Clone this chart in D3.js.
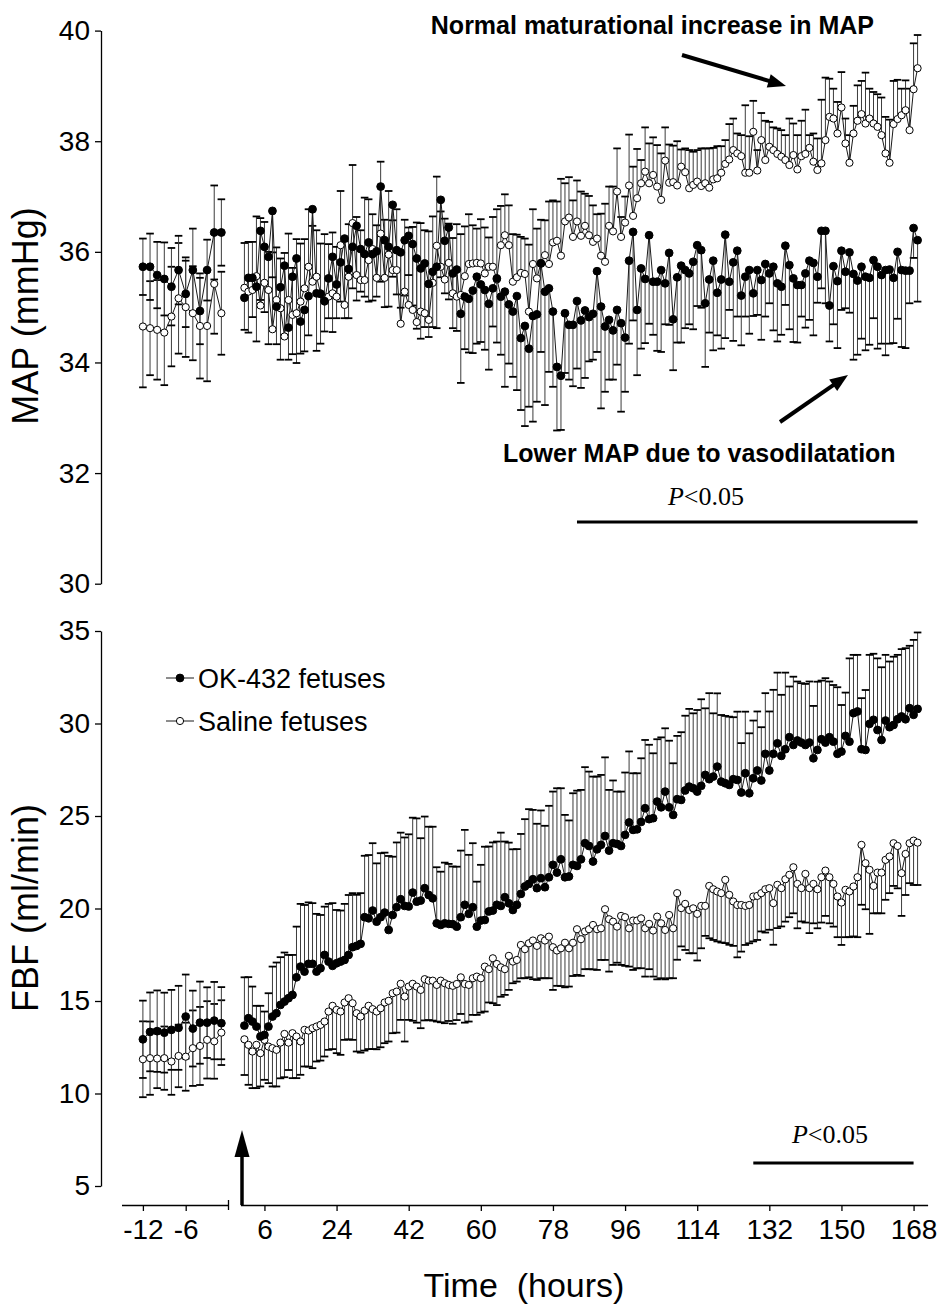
<!DOCTYPE html>
<html><head><meta charset="utf-8">
<script src="https://cdn.jsdelivr.net/npm/d3@7"></script>
<style>
html,body{margin:0;padding:0;background:#fff;}
svg{display:block;}
</style></head><body>
<svg id="chart" width="942" height="1309"></svg>
<script>
// ---------------- DATA ----------------
const preHours = [-12,-11,-10,-9,-8,-7,-6,-5,-4,-3,-2,-1];
const postHours = [1,2,3,4,5,6,7,8,9,10,11,12,13,14,15,16,17,18,19,20,
 21,22,23,24,25,26,27,28,29,30,31,32,33,34,35,36,37,38,39,40,
 41,42,43,44,45,46,47,48,49,50,51,52,53,54,55,56,57,58,59,60,
 61,62,63,64,65,66,67,68,69,70,71,72,73,74,75,76,77,78,79,80,
 81,82,83,84,85,86,87,88,89,90,91,92,93,94,95,96,97,98,99,100,
 101,102,103,104,105,106,107,108,109,110,111,112,113,114,115,116,117,118,119,120,
 121,122,123,124,125,126,127,128,129,130,131,132,133,134,135,136,137,138,139,140,
 141,142,143,144,145,146,147,148,149,150,151,152,153,154,155,156,157,158,159,160,
 161,162,163,164,165,166,167,168,169];

const mapTicks = [30,32,34,36,38,40];
const fbfTicks = [5,10,15,20,25,30,35];
const xTicksPre = [-12,-6];
const xTicksPost = [6,24,42,60,78,96,114,132,150,168];
const seriesNames = ["OK-432 fetuses","Saline fetuses"];
const sigMapHours = [84,169];
const sigFbfHours = [128,168];

// MAP (mmHg) - OK-432 (filled)
const mapOkPre = [35.73,35.73,35.58,35.51,35.37,35.67,35.24,35.67,34.93,35.67,36.35,36.35];
const mapOkPreSem = [0.51,0.60,0.60,0.66,0.70,0.62,0.60,0.75,0.60,0.55,0.85,0.60];
const mapOk = [
 35.17,35.53,35.53,35.37,36.38,36.09,35.91,36.74,35.01,35.36,
 35.75,34.63,35.55,35.88,34.74,34.95,35.20,36.77,35.25,35.24,
 35.11,35.52,35.91,35.41,35.81,36.24,35.69,36.09,36.47,36.05,
 35.96,36.17,35.96,36.01,37.18,36.21,36.09,36.85,36.03,35.99,
 36.21,36.29,36.14,35.88,35.70,35.79,35.42,35.64,35.73,36.94,
 36.20,36.44,35.61,35.68,34.88,35.19,35.15,35.30,35.55,35.41,
 35.31,35.06,35.34,35.52,35.19,35.28,35.05,34.92,35.20,34.44,
 34.66,34.25,34.84,34.87,35.79,35.28,35.34,34.92,33.92,33.76,
 34.89,34.68,34.68,35.11,34.76,34.94,34.82,34.88,35.65,35.01,
 34.65,34.77,34.58,34.95,34.71,34.45,35.84,36.36,34.95,35.70,
 35.51,36.30,35.46,35.46,35.67,35.43,35.98,34.78,35.54,35.75,
 35.67,35.61,35.82,36.12,36.03,35.07,35.50,35.84,35.26,35.50,
 36.31,35.46,35.81,36.02,35.21,35.55,35.67,35.25,35.67,35.49,
 35.78,35.61,35.73,35.43,35.37,36.11,35.76,35.52,35.40,35.40,
 35.61,35.84,35.80,35.55,36.38,36.38,35.03,35.74,35.47,36.02,
 35.64,35.99,35.60,35.48,35.73,35.55,35.53,35.85,35.73,35.58,
 35.67,35.68,35.53,36.00,35.67,35.66,35.66,36.43,36.21];
const mapOkSem = [
 0.58,0.99,0.71,0.99,1.25,1.18,1.58,1.20,0.68,1.31,
 1.25,0.58,1.40,1.89,0.58,0.75,0.71,1.30,1.04,0.90,
 0.55,0.72,1.36,0.61,0.71,1.44,0.89,0.75,1.35,0.77,
 0.77,1.07,0.84,0.82,1.72,1.21,1.08,1.30,0.80,1.00,
 1.00,0.71,1.11,1.27,1.27,1.15,0.96,1.00,1.11,1.40,
 0.95,1.30,0.99,1.11,1.25,0.95,0.97,1.13,1.21,1.04,
 1.08,1.19,0.69,1.16,1.05,1.72,1.07,1.18,1.70,1.30,
 1.81,1.05,1.91,1.58,1.60,2.05,1.51,1.36,1.15,0.98,
 1.08,0.99,1.11,1.22,1.22,1.22,0.80,0.83,1.46,1.84,
 1.18,1.08,0.89,0.99,1.60,0.98,1.50,1.60,1.18,1.45,
 1.16,1.60,0.96,1.25,1.48,0.74,1.30,0.92,1.18,1.39,
 1.05,0.92,1.22,1.10,1.04,1.15,0.96,1.62,0.77,1.25,
 1.87,0.51,1.42,1.19,0.90,0.72,1.15,0.41,0.81,1.08,
 0.95,0.54,1.15,1.05,0.87,1.07,1.16,1.15,1.04,0.57,
 0.98,1.07,1.31,0.47,1.04,1.31,0.65,1.05,1.21,1.07,
 0.66,1.09,1.55,1.34,1.30,1.33,1.21,1.05,1.48,1.24,
 1.54,1.34,1.18,1.21,1.39,1.40,0.59,0.54,1.11];

// MAP (mmHg) - Saline (open)
const mapSalPre = [34.65,34.62,34.59,34.54,34.83,35.16,35.00,34.89,34.66,34.66,35.42,34.89];
const mapSalPreSem = [1.10,0.85,0.90,0.95,0.90,1.00,0.90,0.85,0.95,1.00,0.90,0.75];
const mapSal = [
 35.35,35.28,35.31,35.56,35.03,35.44,35.31,34.60,35.13,34.98,
 34.47,35.13,34.86,34.89,35.10,35.34,35.73,35.46,35.55,35.25,
 35.10,35.19,35.25,35.19,36.12,35.04,35.55,36.52,35.58,35.49,
 35.49,35.85,36.05,35.53,36.33,35.53,35.95,35.67,35.67,34.70,
 35.28,35.04,34.95,34.73,34.92,34.89,34.77,35.44,36.11,35.73,
 35.50,35.80,35.25,35.19,35.22,35.56,35.78,35.79,35.80,35.79,
 35.61,35.73,35.73,35.50,36.12,36.30,36.12,35.46,35.54,35.62,
 35.60,34.92,35.78,35.52,35.80,35.94,35.78,36.17,36.20,35.93,
 36.55,36.62,36.27,36.55,36.29,36.47,36.30,36.18,36.24,35.93,
 35.82,36.47,36.37,37.09,36.27,36.53,37.20,36.65,36.97,37.24,
 37.45,37.24,37.39,37.18,36.94,37.65,37.25,37.26,37.20,37.54,
 37.44,37.15,37.21,37.27,37.19,37.24,37.16,37.31,37.33,37.43,
 37.59,37.67,37.84,37.78,37.73,37.43,37.43,38.17,37.47,38.02,
 37.66,37.90,37.84,37.77,37.72,37.66,37.57,37.75,37.49,37.73,
 37.77,37.88,37.63,37.48,37.60,38.02,38.44,38.41,38.14,38.61,
 37.96,37.61,38.14,38.37,38.49,38.32,38.41,38.32,38.26,38.11,
 37.78,37.61,38.31,38.40,38.47,38.56,38.20,38.94,39.32];
const mapSalSem = [
 0.81,0.90,0.87,1.08,1.58,1.10,0.69,1.39,0.95,0.90,
 1.51,1.20,0.85,1.34,1.05,0.89,1.04,1.01,0.84,0.90,
 1.22,0.95,1.10,0.90,0.98,1.15,0.95,1.05,1.05,0.90,
 1.49,1.10,0.63,0.95,1.30,1.05,1.15,0.90,1.10,1.30,
 1.30,1.40,1.50,1.80,1.60,1.50,1.60,1.20,1.25,1.00,
 1.10,0.71,1.00,1.31,1.10,0.90,0.90,0.69,0.62,0.80,
 0.83,0.53,0.90,1.27,0.71,0.74,0.72,0.86,0.77,0.65,
 0.64,1.21,0.99,0.90,0.78,0.63,1.13,0.76,0.71,1.39,
 0.69,0.73,0.66,0.74,0.80,0.58,0.71,0.66,0.44,0.76,
 1.05,0.71,0.81,0.78,0.36,0.47,0.92,0.89,0.89,0.42,
 0.80,0.72,0.68,0.75,0.84,0.60,0.69,0.66,0.80,0.31,
 0.43,0.69,0.60,0.57,0.68,0.63,0.71,0.57,0.58,0.48,
 0.43,0.64,0.57,0.36,0.38,1.22,0.66,0.56,0.37,0.49,
 0.71,0.45,0.41,0.46,0.48,0.45,0.84,0.57,0.62,0.64,
 0.80,0.23,0.51,0.57,1.15,1.13,0.69,0.54,0.57,0.64,
 0.45,0.50,0.50,0.64,0.60,0.92,0.54,0.57,0.59,0.68,
 0.66,0.78,0.78,0.71,0.48,0.54,0.75,0.83,0.60];

// FBF (ml/min) - OK-432 (filled)
const fbfOkPre = [12.93,13.33,13.37,13.29,13.44,13.55,14.16,13.51,13.83,13.83,13.94,13.80];
const fbfOkPreSem = [2.09,2.13,2.20,2.16,2.16,2.27,2.27,2.05,2.22,1.91,2.09,1.95];
const fbfOk = [
 13.67,14.07,13.89,13.62,13.08,13.17,13.62,14.16,14.34,14.79,
 14.97,15.15,15.33,16.28,16.86,16.59,17.01,17.01,16.59,16.77,
 17.49,17.13,16.90,17.04,17.13,17.22,17.49,17.91,17.98,18.09,
 19.53,19.47,19.89,19.29,19.53,19.78,18.84,19.65,20.07,20.50,
 20.14,20.11,20.86,20.37,20.43,21.10,20.73,20.55,19.20,19.11,
 19.20,19.17,19.15,19.02,19.53,20.20,19.71,20.07,19.02,19.35,
 19.38,19.84,19.89,20.20,20.14,20.61,20.28,19.92,20.20,20.79,
 21.19,21.33,21.58,21.10,21.64,21.15,21.69,22.36,21.94,22.66,
 21.69,21.73,22.36,22.30,22.66,23.53,23.38,22.54,23.20,23.44,
 23.92,23.13,23.53,23.49,23.38,23.98,24.65,24.25,24.28,24.68,
 25.42,24.83,24.88,25.78,25.47,26.32,25.47,25.06,25.91,25.87,
 26.38,26.59,26.50,26.32,26.63,27.22,26.99,27.13,27.67,26.86,
 26.77,26.68,26.99,26.95,26.27,27.31,26.23,27.04,27.46,26.92,
 28.36,27.46,28.36,28.93,28.25,28.61,29.26,28.84,29.08,28.97,
 28.84,28.97,28.12,28.57,29.15,28.97,29.26,29.02,28.36,28.48,
 29.33,29.02,30.56,30.65,28.61,28.57,29.98,30.20,29.65,29.11,
 30.16,29.80,29.92,30.23,30.38,30.23,30.83,30.47,30.79];
const fbfOkSem = [
 2.61,2.22,1.89,1.12,1.66,1.26,1.80,2.70,2.74,2.58,
 2.65,2.34,2.16,2.74,3.39,3.60,3.32,3.28,3.12,2.88,
 2.61,3.12,3.39,2.88,2.76,3.03,3.24,2.92,2.76,2.74,
 3.32,3.42,3.64,3.15,3.46,3.24,4.00,3.15,3.50,3.60,
 3.70,3.90,4.05,4.50,3.37,3.87,3.69,3.87,3.03,2.88,
 3.28,3.24,3.12,3.24,3.60,4.05,3.19,3.46,2.43,3.01,
 3.96,3.51,3.68,3.42,3.96,3.01,3.28,3.28,3.01,3.24,
 3.64,4.04,3.75,3.48,3.66,3.32,3.86,3.96,4.56,3.84,
 3.37,3.03,3.87,4.07,3.75,4.11,4.02,4.59,3.93,3.78,
 4.25,3.28,3.39,2.83,2.94,3.37,3.84,3.06,3.03,3.44,
 3.69,4.02,3.51,3.37,3.78,3.42,3.60,2.79,3.42,3.66,
 4.04,4.20,4.05,4.41,4.68,3.60,4.65,3.42,3.96,3.60,
 3.64,3.69,3.35,3.69,2.67,3.33,3.24,3.12,3.19,2.88,
 3.28,3.19,3.46,3.82,3.30,4.14,2.74,3.69,3.19,3.21,
 3.30,3.30,2.83,3.69,3.17,3.48,3.01,3.06,3.60,2.52,
 2.34,4.50,3.15,3.06,2.76,3.24,3.73,3.57,3.87,3.93,
 3.55,3.55,3.69,3.48,3.64,3.84,3.37,4.05,4.13];

// FBF (ml/min) - Saline (open)
const fbfSalPre = [11.85,11.91,11.89,11.91,11.73,12.03,11.99,12.45,12.57,12.90,12.82,13.29];
const fbfSalPreSem = [2.05,1.98,1.60,1.71,1.80,1.69,1.84,2.04,2.11,2.09,2.02,1.75];
const fbfSal = [
 12.93,12.63,12.27,12.63,12.18,12.90,12.54,12.45,12.36,12.75,
 13.22,12.75,13.26,13.08,12.81,13.44,13.40,13.53,13.62,13.71,
 13.89,14.43,14.74,14.52,14.43,14.92,15.15,14.88,14.34,14.16,
 14.48,14.74,14.56,14.43,14.61,14.92,15.01,15.42,15.51,15.93,
 15.24,15.78,15.93,15.78,15.60,16.18,16.10,16.10,15.87,16.10,
 15.96,15.87,15.82,15.92,16.28,15.92,15.87,16.23,16.32,16.23,
 16.86,16.72,17.31,17.00,16.82,16.72,17.44,17.13,17.22,18.03,
 17.80,18.12,18.27,17.98,18.39,18.27,18.48,17.91,17.73,17.85,
 18.15,17.85,18.15,18.88,18.34,18.76,18.88,19.11,18.88,18.93,
 19.96,19.42,19.29,19.02,19.60,19.53,18.93,19.35,19.35,19.47,
 18.93,19.17,18.81,19.56,19.20,18.84,19.65,18.93,20.83,20.02,
 20.25,19.92,20.01,19.71,20.14,20.14,21.22,21.04,20.92,20.83,
 21.55,20.74,20.38,20.19,20.19,20.14,20.19,20.65,20.68,20.83,
 21.04,21.10,20.29,21.28,21.10,21.58,21.82,22.23,21.33,21.10,
 21.87,21.10,21.33,21.04,21.69,22.05,21.69,21.33,20.65,20.32,
 21.01,20.92,21.19,21.69,23.44,22.45,22.09,21.22,21.94,21.94,
 22.63,22.81,23.53,23.38,21.91,22.95,23.53,23.67,23.56];
const fbfSalSem = [
 1.93,2.16,1.98,2.34,1.80,2.16,1.98,2.07,1.98,1.93,
 2.34,1.48,2.43,2.25,1.80,1.98,1.95,2.16,1.89,1.93,
 1.89,2.07,2.34,2.34,2.34,2.02,2.22,1.98,2.07,1.95,
 2.16,2.34,2.16,2.04,2.11,2.20,2.20,2.16,2.22,1.95,
 2.43,1.80,2.00,1.95,2.07,2.23,2.13,2.16,1.98,2.25,
 2.16,1.95,2.05,1.95,1.98,2.09,1.98,1.98,2.07,1.86,
 2.43,1.80,2.43,2.22,1.59,1.39,1.84,1.17,1.17,1.80,
 1.57,1.84,2.09,1.84,2.16,2.04,2.25,2.31,1.91,2.04,
 2.41,2.07,1.80,2.47,1.98,2.04,2.16,2.40,2.20,1.71,
 2.74,2.83,2.34,1.95,2.65,2.63,2.07,2.67,2.58,2.70,
 2.61,2.45,2.49,3.39,2.97,2.67,3.42,2.70,3.60,2.07,
 2.49,2.34,2.43,2.52,2.29,1.62,2.83,2.74,2.70,2.67,
 3.42,2.70,2.40,2.83,2.52,2.11,2.07,2.43,2.38,2.07,
 2.34,2.25,2.25,2.34,2.07,2.29,2.29,2.49,2.40,1.80,
 2.63,2.43,2.13,2.11,2.45,2.45,2.49,2.31,2.20,2.29,
 2.56,2.47,2.70,3.24,3.24,2.49,3.46,1.48,2.20,2.20,
 2.16,1.98,2.31,2.29,2.31,2.22,2.16,2.40,2.29];

// ---------------- LAYOUT ----------------
const SANS = '"Liberation Sans", Arial, Helvetica, sans-serif';
const SERIF = '"Liberation Serif", "Times New Roman", serif';
const svg = d3.select('#chart');
const AXIS_X = 101;
const XAXIS_Y = 1205;

const xPre  = d3.scaleLinear().domain([-15, 0]).range([121.5, 228.5]);
const xPost = d3.scaleLinear().domain([0, 171.5]).range([240.4, 927.6]);
const yMap  = d3.scaleLinear().domain([30, 40]).range([583.7, 30.6]);
const yFbf  = d3.scaleLinear().domain([5, 35]).range([1186, 631]);

// ---------------- HELPERS ----------------
function errorBars(g, hours, xs, ys, vals, sems, dirs) {
  const rows = [];
  vals.forEach((v, i) => {
    if (hours[i] === undefined || sems[i] === undefined) return;
    dirs.forEach(d => rows.push({x: xs(hours[i]), y0: ys(v), y1: ys(v + d * sems[i])}));
  });
  g.append('g').selectAll('line').data(rows).join('line')
    .attr('x1', d => d.x).attr('x2', d => d.x)
    .attr('y1', d => d.y0).attr('y2', d => d.y1)
    .attr('stroke', '#3c3c3c').attr('stroke-width', 1);
  g.append('g').selectAll('line').data(rows).join('line')
    .attr('x1', d => d.x - 3.8).attr('x2', d => d.x + 3.8)
    .attr('y1', d => d.y1).attr('y2', d => d.y1)
    .attr('stroke', '#000').attr('stroke-width', 1.8);
}
function seriesLine(g, hours, xs, ys, vals) {
  const pts = vals.map((v, i) => [xs(hours[i]), ys(v)]).filter(p => !isNaN(p[0]));
  g.append('path').datum(pts).attr('d', d3.line())
    .attr('fill', 'none').attr('stroke', '#1a1a1a').attr('stroke-width', 1);
}
function markers(g, hours, xs, ys, vals, filled) {
  const pts = vals.map((v, i) => [xs(hours[i]), ys(v)]).filter(p => !isNaN(p[0]));
  g.append('g').selectAll('circle').data(pts).join('circle')
    .attr('cx', d => d[0]).attr('cy', d => d[1]).attr('r', filled ? 3.9 : 3.6)
    .attr('fill', filled ? '#000' : '#fff')
    .attr('stroke', '#000').attr('stroke-width', 1);
}
function panel(ys, okPre, okPreSem, salPre, salPreSem, ok, okSem, sal, salSem, okDir, salDir) {
  const g = svg.append('g');
  errorBars(g, preHours, xPre, ys, salPre, salPreSem, [1, -1]);
  errorBars(g, preHours, xPre, ys, okPre, okPreSem, [1, -1]);
  errorBars(g, postHours, xPost, ys, sal, salSem, [salDir]);
  errorBars(g, postHours, xPost, ys, ok, okSem, [okDir]);
  seriesLine(g, preHours, xPre, ys, salPre);
  seriesLine(g, postHours, xPost, ys, sal);
  seriesLine(g, preHours, xPre, ys, okPre);
  seriesLine(g, postHours, xPost, ys, ok);
  markers(g, preHours, xPre, ys, salPre, false);
  markers(g, postHours, xPost, ys, sal, false);
  markers(g, preHours, xPre, ys, okPre, true);
  markers(g, postHours, xPost, ys, ok, true);
}
function styleAxis(sel, fs) {
  sel.attr('font-family', SANS).attr('font-size', fs);
  sel.select('.domain').attr('stroke', '#000').attr('stroke-width', 1.3);
  sel.selectAll('.tick line').attr('stroke', '#000').attr('stroke-width', 1.3);
  sel.selectAll('.tick text').attr('fill', '#000');
}
function arrow(x1, y1, x2, y2, w, hl, hw) {
  const dx = x2 - x1, dy = y2 - y1, L = Math.hypot(dx, dy), ux = dx / L, uy = dy / L;
  const bx = x2 - ux * hl, by = y2 - uy * hl;
  svg.append('line').attr('x1', x1).attr('y1', y1).attr('x2', bx + ux).attr('y2', by + uy)
    .attr('stroke', '#000').attr('stroke-width', w);
  svg.append('polygon')
    .attr('points', [[x2, y2], [bx - uy * hw / 2, by + ux * hw / 2], [bx + uy * hw / 2, by - ux * hw / 2]]
      .map(p => p.join(',')).join(' '))
    .attr('fill', '#000');
}
const plainFmt = d => String(d);

// ---------------- PANELS ----------------
panel(yMap, mapOkPre, mapOkPreSem, mapSalPre, mapSalPreSem, mapOk, mapOkSem, mapSal, mapSalSem, -1, 1);
panel(yFbf, fbfOkPre, fbfOkPreSem, fbfSalPre, fbfSalPreSem, fbfOk, fbfOkSem, fbfSal, fbfSalSem, 1, -1);

// ---------------- AXES ----------------
const ayMap = svg.append('g').attr('transform', `translate(${AXIS_X},0)`)
  .call(d3.axisLeft(yMap).tickValues(mapTicks).tickFormat(plainFmt).tickSize(6).tickPadding(5).tickSizeOuter(0));
styleAxis(ayMap, 28);
const ayFbf = svg.append('g').attr('transform', `translate(${AXIS_X},0)`)
  .call(d3.axisLeft(yFbf).tickValues(fbfTicks).tickFormat(plainFmt).tickSize(6).tickPadding(5).tickSizeOuter(0));
styleAxis(ayFbf, 28);

const axPre = svg.append('g').attr('transform', `translate(0,${XAXIS_Y})`)
  .call(d3.axisBottom(xPre).tickValues(xTicksPre).tickFormat(plainFmt).tickSize(6).tickPadding(8).tickSizeOuter(0));
styleAxis(axPre, 28);
axPre.append('line').attr('x1', xPre(0)).attr('x2', xPre(0)).attr('y1', -5).attr('y2', 5)
  .attr('stroke', '#000').attr('stroke-width', 1.3);
const axPost = svg.append('g').attr('transform', `translate(0,${XAXIS_Y})`)
  .call(d3.axisBottom(xPost).tickValues(xTicksPost).tickFormat(plainFmt).tickSize(6).tickPadding(8).tickSizeOuter(0));
styleAxis(axPost, 28);

// axis titles
svg.append('text').attr('transform', 'translate(38,316) rotate(-90)')
  .attr('text-anchor', 'middle').attr('font-family', SANS).attr('font-size', 36).text('MAP (mmHg)');
svg.append('text').attr('transform', 'translate(38,908) rotate(-90)')
  .attr('text-anchor', 'middle').attr('font-family', SANS).attr('font-size', 36).text('FBF (ml/min)');
svg.append('text').attr('x', 524).attr('y', 1297).attr('text-anchor', 'middle')
  .attr('font-family', SANS).attr('font-size', 34).style('white-space', 'pre').text('Time  (hours)');

// ---------------- LEGEND ----------------
const legY = [678, 721];
seriesNames.forEach((name, i) => {
  const y = legY[i];
  svg.append('line').attr('x1', 166).attr('x2', 194).attr('y1', y).attr('y2', y)
    .attr('stroke', '#1a1a1a').attr('stroke-width', 1);
  svg.append('circle').attr('cx', 180).attr('cy', y).attr('r', i === 0 ? 3.9 : 3.6)
    .attr('fill', i === 0 ? '#000' : '#fff').attr('stroke', '#000').attr('stroke-width', 1);
  svg.append('text').attr('x', 198).attr('y', y + 9.5).attr('font-family', SANS)
    .attr('font-size', 27).text(name);
});

// ---------------- ANNOTATIONS ----------------
svg.append('text').attr('x', 874).attr('y', 34).attr('text-anchor', 'end')
  .attr('font-family', SANS).attr('font-weight', 'bold').attr('font-size', 25)
  .text('Normal maturational increase in MAP');
arrow(682, 55, 786, 86, 4, 18, 14);

svg.append('text').attr('x', 503).attr('y', 462).attr('text-anchor', 'start')
  .attr('font-family', SANS).attr('font-weight', 'bold').attr('font-size', 25)
  .text('Lower MAP due to vasodilatation');
arrow(780, 422, 848, 375, 4, 18, 14);

function pText(x, y) {
  const t = svg.append('text').attr('x', x).attr('y', y).attr('text-anchor', 'middle')
    .attr('font-family', SERIF).attr('font-size', 26);
  t.append('tspan').attr('font-style', 'italic').text('P');
  t.append('tspan').text('<0.05');
}
pText(706, 505);
svg.append('line').attr('x1', xPost(sigMapHours[0])).attr('x2', xPost(sigMapHours[1]))
  .attr('y1', 522).attr('y2', 522).attr('stroke', '#000').attr('stroke-width', 3);
pText(830, 1143);
svg.append('line').attr('x1', xPost(sigFbfHours[0])).attr('x2', xPost(sigFbfHours[1]))
  .attr('y1', 1163).attr('y2', 1163).attr('stroke', '#000').attr('stroke-width', 3);

// injection arrow
arrow(xPost(0.4), XAXIS_Y, xPost(0.4), 1130, 3.5, 27, 15);
</script>
</body></html>
